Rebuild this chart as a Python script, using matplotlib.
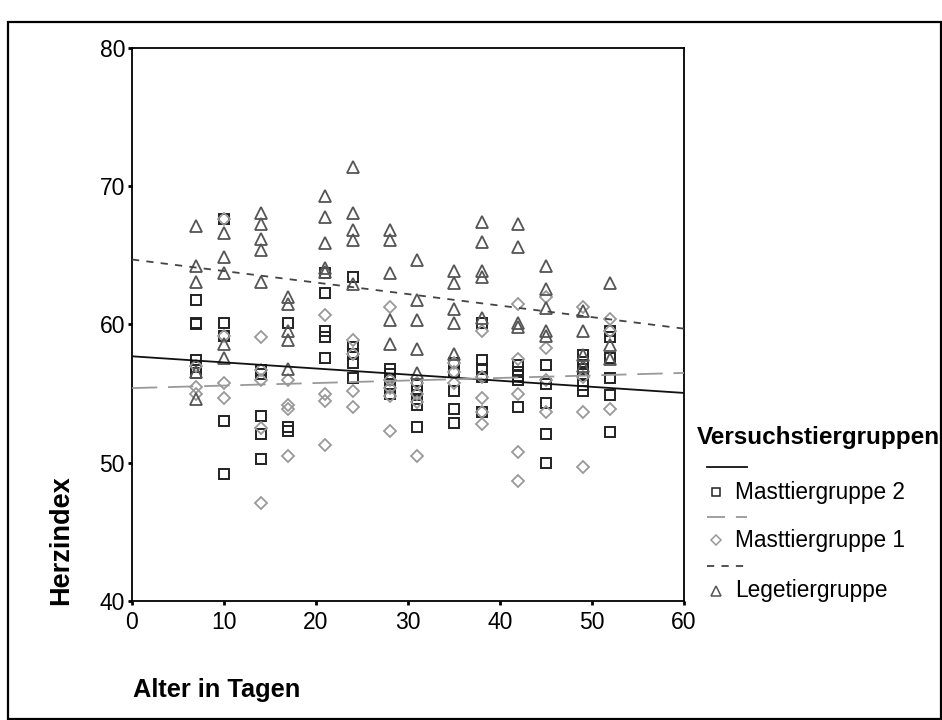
import matplotlib
matplotlib.use("Agg")
import matplotlib.pyplot as plt
from matplotlib.lines import Line2D
from matplotlib.patches import Rectangle

plt.rcParams['font.family'] = ['Liberation Sans', 'DejaVu Sans']

ages = [7, 10, 14, 17, 21, 24, 28, 31, 35, 38, 42, 45, 49, 52]

mast2 = [
    [61.8, 60.1, 60.0, 57.4, 56.9, 56.5],
    [67.6, 60.1, 59.2, 53.0, 49.2],
    [56.7, 56.4, 53.4, 52.1, 50.3],
    [60.1, 52.6, 52.3],
    [63.7, 62.3, 59.5, 59.1, 57.6],
    [63.4, 58.4, 57.9, 57.2, 56.1],
    [56.8, 56.4, 56.0, 55.5, 55.0],
    [55.6, 55.2, 54.6, 54.2, 52.6],
    [57.2, 56.6, 55.2, 53.9, 52.9],
    [60.1, 57.4, 56.8, 56.2, 53.7],
    [57.1, 56.6, 56.3, 56.0, 54.0],
    [57.1, 55.7, 54.3, 52.1, 50.0],
    [57.8, 57.3, 56.8, 56.4, 55.6, 55.2],
    [59.5, 59.1, 57.6, 56.1, 54.9, 52.2],
]
mast1 = [
    [57.0, 55.5, 55.0],
    [67.6, 59.2, 55.8, 54.7],
    [59.1, 56.7, 56.0, 52.5, 47.1],
    [56.0, 54.2, 53.9, 50.5],
    [60.7, 55.0, 54.5, 51.3],
    [58.9, 57.9, 55.2, 54.0],
    [61.3, 56.0, 55.4, 54.8, 52.3],
    [55.8, 55.0, 54.4, 50.5],
    [57.2, 56.6, 55.8],
    [59.5, 56.2, 54.7, 53.7, 52.8],
    [61.5, 57.5, 55.0, 50.8, 48.7],
    [62.0, 58.3, 56.0, 53.7],
    [61.3, 56.2, 53.7, 49.7],
    [60.4, 59.5, 53.9],
]
lege = [
    [67.1, 64.2, 63.1, 56.6, 54.6],
    [66.6, 64.9, 63.7, 58.6, 57.6],
    [68.1, 67.3, 66.2, 65.4, 63.1],
    [62.0, 61.5, 59.5, 58.9, 56.8],
    [69.3, 67.8, 65.9, 64.1, 63.8],
    [71.4, 68.1, 66.8, 66.1, 62.9],
    [66.8, 66.1, 63.7, 60.3, 58.6],
    [64.7, 61.8, 60.3, 58.2, 56.5],
    [63.9, 63.0, 61.1, 60.1, 57.9],
    [67.4, 66.0, 63.9, 63.4, 60.5],
    [67.3, 65.6, 60.1, 59.8],
    [64.2, 62.6, 61.2, 59.5, 59.2],
    [61.0, 59.5, 57.8, 57.0],
    [63.0, 58.5, 57.5],
]

fit_x = [0, 60]
mast2_fit = [57.7, 55.05]
mast1_fit = [55.4, 56.5]
lege_fit = [64.7, 59.7]

group_names = ["Masttiergruppe 2", "Masttiergruppe 1", "Legetiergruppe"]
legend_title = "Versuchstiergruppen"
x_ticks = [0, 10, 20, 30, 40, 50, 60]
y_ticks = [40, 50, 60, 70, 80]


def flatten(groups):
    xs, ys = [], []
    for a, vals in zip(ages, groups):
        for v in vals:
            xs.append(a)
            ys.append(v)
    return xs, ys


fig = plt.figure(figsize=(9.42, 7.2), dpi=100)
fig.patch.set_facecolor('white')

# figure frame
fig.add_artist(Rectangle((8 / 942, 1 / 720), 933 / 942, 697 / 720,
                         transform=fig.transFigure, fill=False,
                         edgecolor='black', linewidth=1.6))

ax = fig.add_axes([132 / 942, 1 - 601 / 720, 552 / 942, 553 / 720])

c_sq = '#222222'
c_di = '#999999'
c_tr = '#555555'

styles = [
    dict(marker='s', ms=6.5, mec=c_sq, mew=1.4),
    dict(marker='D', ms=6.2, mec=c_di, mew=1.3),
    dict(marker='^', ms=9.0, mec=c_tr, mew=1.3),
]
for groups, st in zip([mast2, mast1, lege], styles):
    xs, ys = flatten(groups)
    ax.plot(xs, ys, linestyle='none', mfc='none', zorder=3, **st)

ax.plot(fit_x, mast2_fit, color='#111111', lw=1.3, zorder=4)
ax.plot(fit_x, mast1_fit, color='#999999', lw=1.3, dashes=(14, 6), zorder=4)
ax.plot(fit_x, lege_fit, color='#444444', lw=1.3, dashes=(4, 4), zorder=4)

ax.set_xlim(0, 60)
ax.set_ylim(40, 80)
ax.set_xticks(x_ticks)
ax.set_yticks(y_ticks)
ax.tick_params(direction='out', length=3, width=2, labelsize=16.5, pad=2)
ax.tick_params(axis='x', pad=4)
for s in ax.spines.values():
    s.set_linewidth(1.3)

fig.text(61 / 942, 1 - 540 / 720, "Herzindex", rotation=90, fontsize=19.5,
         fontweight='bold', ha='center', va='center')
fig.text(133 / 942, 1 - 690 / 720, "Alter in Tagen", fontsize=18.3,
         fontweight='bold', ha='left', va='center')

# legend
fig.text(697 / 942, 1 - 438 / 720, legend_title, fontsize=17.5,
         fontweight='bold', ha='left', va='center')
leg_rows = [
    (467, 492, dict(color='#111111', lw=1.3), styles[0]),
    (517, 540, dict(color='#999999', lw=1.3, dashes=(10, 6)), styles[1]),
    (566, 591, dict(color='#444444', lw=1.3, dashes=(4, 4)), styles[2]),
]
for (ly, my, lst, mst), name in zip(leg_rows, group_names):
    fig.add_artist(Line2D([707 / 942, 747 / 942], [1 - ly / 720, 1 - ly / 720],
                          transform=fig.transFigure, **lst))
    ms = dict(mst)
    ms['ms'] = ms['ms'] * 0.8
    ms['mew'] = 1.1
    fig.add_artist(Line2D([716 / 942], [1 - my / 720], transform=fig.transFigure,
                          linestyle='none', mfc='none', **ms))
    fig.text(735 / 942, 1 - my / 720, name, fontsize=16.3, ha='left', va='center')

fig.savefig("out.png", dpi=100)
